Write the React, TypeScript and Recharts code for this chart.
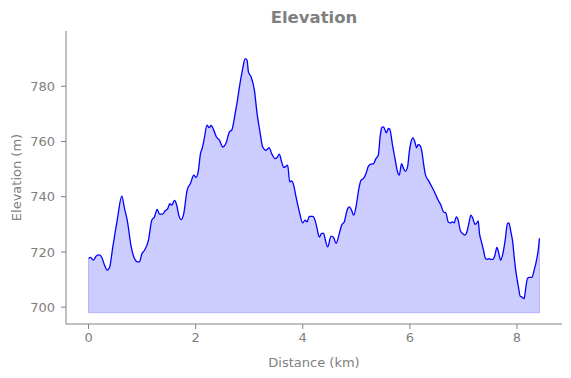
import { ComposedChart, Area, Line, XAxis, YAxis, ReferenceLine } from 'recharts';

// distance along the track (km) and elevation (m)
const distanceKm = [
  0.0, 0.037, 0.093, 0.144, 0.2, 0.248, 0.299, 0.349, 0.392, 0.453,
  0.535, 0.621, 0.672, 0.722, 0.797, 0.858, 0.909, 0.951, 0.994, 1.045,
  1.119, 1.181, 1.231, 1.282, 1.325, 1.386, 1.431, 1.479, 1.517, 1.554,
  1.604, 1.647, 1.685, 1.729, 1.778, 1.841, 1.903, 1.965, 2.009, 2.052,
  2.09, 2.121, 2.155, 2.214, 2.252, 2.289, 2.338, 2.388, 2.444, 2.506,
  2.569, 2.631, 2.674, 2.737, 2.78, 2.817, 2.879, 2.923, 2.961, 2.985,
  3.035, 3.097, 3.147, 3.196, 3.252, 3.315, 3.371, 3.42, 3.483, 3.521,
  3.563, 3.606, 3.644, 3.688, 3.718, 3.756, 3.793, 3.83, 3.875, 3.937,
  3.998, 4.043, 4.08, 4.123, 4.185, 4.229, 4.267, 4.31, 4.353, 4.39,
  4.422, 4.465, 4.528, 4.576, 4.621, 4.683, 4.726, 4.776, 4.827, 4.869,
  4.912, 4.95, 4.994, 5.043, 5.088, 5.136, 5.181, 5.224, 5.274, 5.323,
  5.367, 5.41, 5.448, 5.479, 5.509, 5.56, 5.597, 5.625, 5.677, 5.722,
  5.77, 5.802, 5.845, 5.882, 5.914, 5.957, 5.989, 6.021, 6.058, 6.095,
  6.125, 6.157, 6.194, 6.226, 6.256, 6.293, 6.343, 6.394, 6.442, 6.487,
  6.53, 6.58, 6.629, 6.673, 6.716, 6.754, 6.797, 6.828, 6.866, 6.903,
  6.94, 6.983, 7.028, 7.065, 7.108, 7.14, 7.177, 7.215, 7.244, 7.276,
  7.3, 7.338, 7.375, 7.412, 7.45, 7.481, 7.513, 7.55, 7.588, 7.625,
  7.655, 7.694, 7.737, 7.78, 7.823, 7.849, 7.886, 7.924, 7.948, 7.985,
  8.028, 8.06, 8.091, 8.134, 8.159, 8.196, 8.233, 8.278, 8.321, 8.371,
  8.401, 8.42,
];

const elevationM = [
  717.6, 718.0, 717.0, 718.5, 718.9, 718.0, 715.2, 713.4, 714.4, 721.8,
  731.5, 740.2, 735.7, 731.5, 721.8, 717.6, 716.4, 716.4, 719.2, 720.6,
  724.3, 731.5, 732.7, 735.4, 733.7, 733.7, 734.9, 735.7, 737.5, 736.9,
  738.7, 736.9, 733.3, 731.7, 733.9, 742.4, 744.8, 747.8, 747.0, 749.6,
  755.6, 757.4, 760.5, 765.9, 765.0, 765.8, 764.1, 761.6, 760.5, 758.0,
  759.5, 763.5, 764.1, 770.1, 774.9, 779.7, 786.4, 790.0, 789.4, 785.2,
  783.4, 778.6, 770.1, 764.1, 758.0, 756.8, 757.8, 755.6, 753.8, 754.2,
  755.4, 752.6, 750.6, 751.0, 751.4, 745.4, 745.7, 744.2, 739.9, 734.5,
  730.5, 731.5, 730.9, 732.9, 732.9, 731.5, 728.5, 725.4, 726.7, 726.7,
  724.3, 721.8, 725.7, 725.2, 723.1, 726.7, 729.7, 730.9, 735.1, 736.3,
  735.1, 733.3, 736.3, 742.4, 746.0, 746.6, 748.4, 751.0, 751.8, 752.0,
  753.8, 755.0, 762.3, 765.1, 765.3, 763.1, 764.7, 764.4, 758.6, 753.8,
  749.0, 747.8, 752.0, 750.2, 749.2, 750.8, 756.2, 759.8, 761.3, 759.8,
  757.7, 758.9, 758.4, 756.2, 752.0, 747.8, 746.0, 744.2, 742.4, 740.5,
  738.7, 736.9, 734.5, 734.1, 730.9, 730.5, 730.9, 730.5, 732.7, 731.5,
  727.9, 726.7, 726.1, 727.3, 730.9, 733.3, 732.1, 730.0, 730.3, 731.2,
  726.7, 723.6, 720.6, 717.6, 717.3, 717.6, 717.3, 717.3, 718.8, 721.6,
  720.0, 717.0, 719.4, 724.3, 730.3, 730.5, 727.3, 723.1, 718.2, 712.2,
  707.3, 704.0, 703.7, 703.1, 706.2, 710.4, 710.8, 710.8, 713.4, 717.6,
  721.2, 724.9,
];

const fillBase = 698;
const xTicks = [0, 2, 4, 6, 8];
const yTicks = [700, 720, 740, 760, 780];

const data = distanceKm.map((km, i) => ({ km, elev: elevationM[i] }));
const lastKm = distanceKm[distanceKm.length - 1];
const lastElev = elevationM[elevationM.length - 1];

const GRAY = '#808080';
const FONT = '"DejaVu Sans", sans-serif';
const tickStyle = { fill: GRAY, fontSize: 13, fontFamily: FONT };

export default function App() {
  return (
    <div style={{ position: 'relative', width: 571, height: 378, fontFamily: FONT }}>
      <style>{'body{margin:0}'}</style>
      <div
        style={{
          position: 'absolute',
          left: 66,
          width: 496,
          top: 8,
          textAlign: 'center',
          color: GRAY,
          fontWeight: 'bold',
          fontSize: 16.5,
          lineHeight: '20px',
        }}
      >
        Elevation
      </div>
      <ComposedChart
        width={571}
        height={378}
        data={data}
        margin={{ top: 31, right: 9, left: 0, bottom: 0 }}
      >
        <XAxis
          dataKey="km"
          type="number"
          domain={[-0.421, 8.841]}
          ticks={xTicks}
          height={54}
          stroke={GRAY}
          tick={tickStyle}
          tickSize={5}
          tickMargin={4}
          label={{ value: 'Distance (km)', position: 'insideBottom', offset: 11, fill: GRAY, fontSize: 13, fontFamily: FONT }}
        />
        <YAxis
          type="number"
          domain={[693.9, 800]}
          ticks={yTicks}
          width={66}
          stroke={GRAY}
          tick={tickStyle}
          tickSize={5}
          tickMargin={6}
          allowDataOverflow
          label={{ value: 'Elevation (m)', angle: -90, position: 'insideLeft', offset: 16, fill: GRAY, fontSize: 13, fontFamily: FONT, style: { textAnchor: 'middle' } }}
        />
        <Area
          dataKey="elev"
          type="monotone"
          baseValue={fillBase}
          fill="#ccccff"
          fillOpacity={1}
          stroke="none"
          isAnimationActive={false}
        />
        <ReferenceLine segment={[{ x: 0, y: fillBase }, { x: lastKm, y: fillBase }]} stroke="#b3b3ff" strokeWidth={1} />
        <ReferenceLine segment={[{ x: 0, y: fillBase }, { x: 0, y: elevationM[0] }]} stroke="#b3b3ff" strokeWidth={1} />
        <ReferenceLine segment={[{ x: lastKm, y: fillBase }, { x: lastKm, y: lastElev }]} stroke="#b3b3ff" strokeWidth={1} />
        <Line
          dataKey="elev"
          type="monotone"
          stroke="#0000ff"
          strokeWidth={1.3}
          dot={false}
          activeDot={false}
          isAnimationActive={false}
        />
      </ComposedChart>
    </div>
  );
}
